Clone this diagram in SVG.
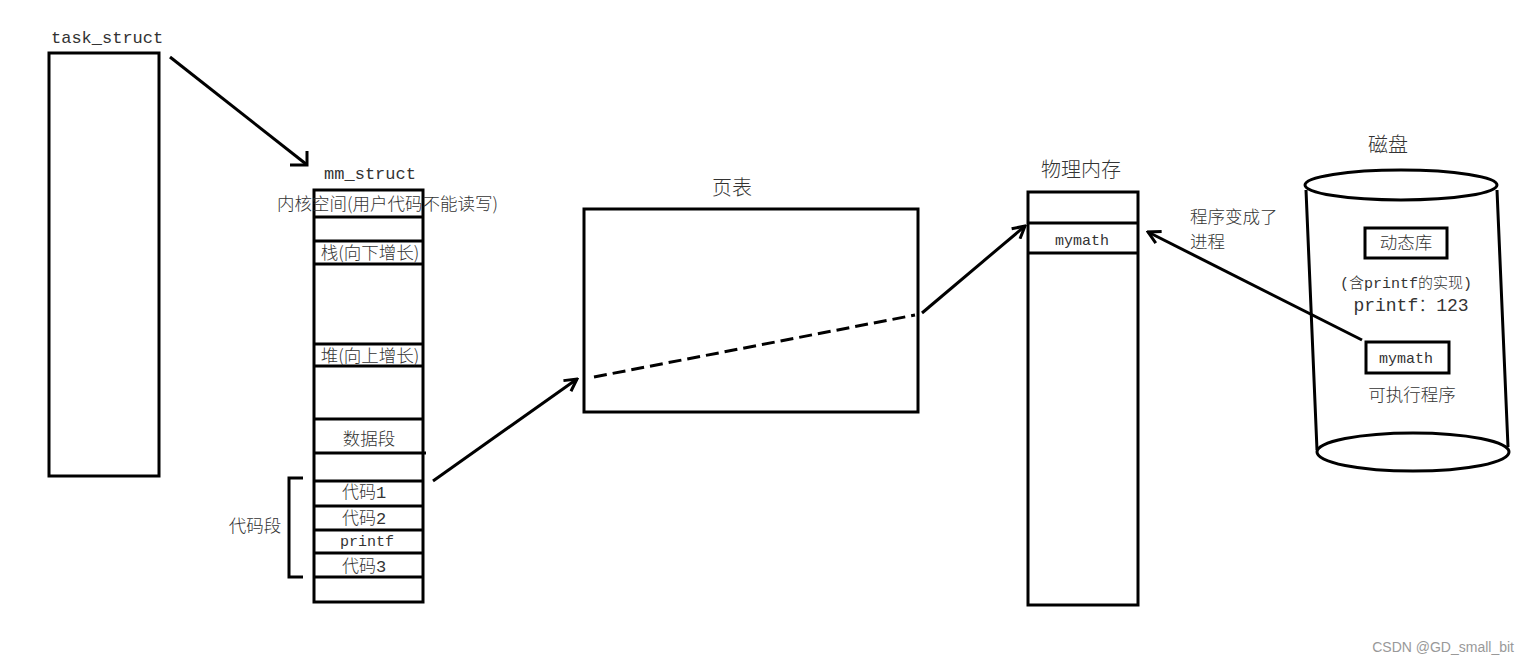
<svg xmlns="http://www.w3.org/2000/svg" width="1529" height="666" viewBox="0 0 1529 666">
<style>
.box{fill:none;stroke:#000;stroke-width:3}
.ln{stroke:#000;stroke-width:3;fill:none}
.t{font-family:"Liberation Mono","Noto Sans CJK SC",monospace;font-size:17px;fill:#333;font-weight:300}
.c{font-family:"Noto Sans CJK SC",sans-serif;font-size:17.5px;fill:#333;font-weight:300}
.h{font-size:20px}
.m{text-anchor:middle}
.wm{font-family:"Liberation Sans",Arial,sans-serif;font-size:14px;fill:#999;text-anchor:end}
</style>
<defs>
<marker id="ah" viewBox="0 0 16 16" refX="14" refY="8" markerWidth="16" markerHeight="16" markerUnits="userSpaceOnUse" orient="auto">
<path d="M2,1.5 L14,8 L2,14.5" fill="none" stroke="#000" stroke-width="3"/>
</marker>
</defs>
<rect width="1529" height="666" fill="#fff"/>

<g id="task_struct">
<text class="t" x="51" y="43">task_struct</text>
<rect class="box" x="49" y="53" width="110" height="423"/>
</g>

<g id="mm_struct">
<text class="t m" x="370" y="179">mm_struct</text>
<rect class="box" x="314" y="190" width="109" height="412"/>
<path class="ln" d="M314,217H423M314,241H423M314,264H423M314,344H423M314,366H423M314,419H423M314,453H426M314,481H423M314,506H423M314,530H423M314,553H423M314,577H423"/>
<text class="c" x="277" y="210">内核空间(用户代码不能读写)</text>
<text class="c m" x="370" y="259">栈(向下增长)</text>
<text class="c m" x="370" y="362">堆(向上增长)</text>
<text class="c m" x="369" y="445">数据段</text>
<text class="t m" x="364" y="498">代码1</text>
<text class="t m" x="364" y="524">代码2</text>
<text class="t m" x="367" y="546" style="font-size:15px">printf</text>
<text class="t m" x="364" y="572">代码3</text>
</g>

<g id="code_segment">
<path class="ln" d="M303,478H289V577H303"/>
<text class="c m" x="255" y="532">代码段</text>
</g>

<g id="page_table">
<text class="c h m" x="732" y="195">页表</text>
<rect class="box" x="584" y="209" width="334" height="203"/>
</g>

<g id="physical_memory">
<text class="c h m" x="1081" y="177">物理内存</text>
<rect class="box" x="1028" y="192" width="110" height="413"/>
<path class="ln" d="M1028,223H1138M1028,253H1138"/>
<text class="t m" x="1082" y="245" style="font-size:15px">mymath</text>
</g>

<g id="disk">
<text class="c h m" x="1388" y="152">磁盘</text>
<ellipse class="box" cx="1401" cy="185" rx="96" ry="15"/>
<path class="ln" d="M1306,190L1317,450M1497,190L1508,447"/>
<ellipse class="box" cx="1413" cy="452" rx="96" ry="19"/>
<rect class="box" x="1365" y="228" width="82" height="30"/>
<text class="c m" x="1406" y="249">动态库</text>
<text class="t m" x="1406" y="288" style="font-size:15px">(含printf的实现)</text>
<text class="t m" x="1411" y="311" style="font-size:18px">printf：123</text>
<rect class="box" x="1366" y="342" width="83" height="31"/>
<text class="t m" x="1406" y="363" style="font-size:15px">mymath</text>
<text class="c m" x="1412" y="401">可执行程序</text>
</g>

<g id="connectors">
<path class="ln" d="M170,57L306,164"/>
<path class="ln" d="M290,165H307V151"/>
<path class="ln" d="M433,481L577,379" marker-end="url(#ah)"/>
<path class="ln" d="M594,377L915,315" stroke-dasharray="13 6"/>
<path class="ln" d="M922,313L1025,226" marker-end="url(#ah)"/>
<path class="ln" d="M1362,340L1148,232" marker-end="url(#ah)"/>
<text class="c" x="1190" y="223">程序变成了</text>
<text class="c" x="1190" y="248">进程</text>
</g>

<text class="wm" x="1514" y="652">CSDN @GD_small_bit</text>
</svg>
